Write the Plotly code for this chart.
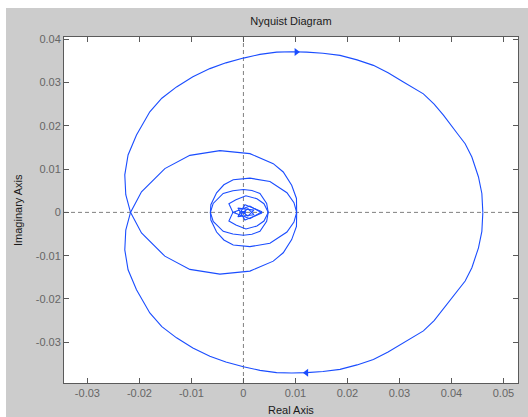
import plotly.graph_objects as go

# Nyquist curve, positive-frequency branch (w = 0 -> inf), real and imaginary parts
re_pos = [
    0.04604, 0.04585, 0.04520, 0.04393, 0.04264, 0.04135, 0.03846, 0.03667,
    0.03461, 0.03076, 0.02782, 0.02499, 0.02185, 0.01858, 0.01530, 0.01217,
    0.00930, 0.00639, 0.00318, 0.00000, -0.00337, -0.00645, -0.00972, -0.01286,
    -0.01569, -0.01800, -0.02056, -0.02218, -0.02281, -0.02262, -0.02171,
    -0.01960, -0.01511, -0.01030, -0.00452, 0.00125, 0.00574, 0.00766, 0.00928,
    0.01020, 0.01024,
    0.00972, 0.00837, 0.00510, 0.00125, -0.00196, -0.00376, -0.00516, -0.00626,
    -0.00635,
    -0.00581, -0.00389, -0.00202, 0.00000, 0.00164, 0.00318, 0.00447, 0.00477,
    0.00395, 0.00260, 0.00048, -0.00144, -0.00279, -0.00202, 0.00125, 0.00356,
    0.00029, -0.00106, 0.00202, 0.00087, -0.00048, 0.00048, 0.00000,
]
im_pos = [
    0.00000, -0.00437, -0.00818, -0.01278, -0.01586, -0.01786, -0.02246, -0.02499,
    -0.02736, -0.03011, -0.03223, -0.03395, -0.03522, -0.03625, -0.03676, -0.03701,
    -0.03710, -0.03701, -0.03648, -0.03563, -0.03453, -0.03320, -0.03131, -0.02897,
    -0.02637, -0.02322, -0.01786, -0.01326, -0.00867, -0.00407, 0.00000,
    0.00474, 0.01011, 0.01317, 0.01425, 0.01356, 0.01126, 0.00933, 0.00628,
    0.00322, 0.00000,
    -0.00223, -0.00453, -0.00713, -0.00791, -0.00752, -0.00637, -0.00453, -0.00177,
    0.00000,
    0.00207, 0.00437, 0.00501, 0.00529, 0.00506, 0.00437, 0.00207, 0.00000,
    -0.00200, -0.00315, -0.00384, -0.00292, -0.00200, 0.00000, 0.00145, -0.00016,
    -0.00177, 0.00099, 0.00053, -0.00085, 0.00030, -0.00016, 0.00000,
]

# Direction arrows on the outer loop
arrow_re = [0.01018, 0.01211]
arrow_im = [0.03702, -0.03702]
arrow_sym = ["triangle-right", "triangle-left"]

# Axis ticks
x_ticks = [-0.03, -0.02, -0.01, 0, 0.01, 0.02, 0.03, 0.04, 0.05]
x_labels = ["-0.03", "-0.02", "-0.01", "0", "0.01", "0.02", "0.03", "0.04", "0.05"]
y_ticks = [-0.03, -0.02, -0.01, 0, 0.01, 0.02, 0.03, 0.04]
y_labels = ["-0.03", "-0.02", "-0.01", "0", "0.01", "0.02", "0.03", "0.04"]

# Negative-frequency branch is the complex conjugate mirror
re_neg = list(reversed(re_pos))
im_neg = [-v for v in reversed(im_pos)]

LINE = "#1a4dff"
FONT = "Arial, Liberation Sans, Helvetica, sans-serif"
W, H = 528, 417
L, R, T, B = 64, 10, 37, 34
pw, ph = W - L - R, H - T - B

fig = go.Figure()
fig.add_trace(go.Scatter(x=re_pos, y=im_pos, mode="lines",
                         line=dict(color=LINE, width=1.1), hoverinfo="skip"))
fig.add_trace(go.Scatter(x=re_neg, y=im_neg, mode="lines",
                         line=dict(color=LINE, width=1.1), hoverinfo="skip"))
fig.add_trace(go.Scatter(x=arrow_re, y=arrow_im, mode="markers",
                         marker=dict(symbol=arrow_sym, size=7, color=LINE,
                                     line=dict(width=0)),
                         hoverinfo="skip"))

axis_common = dict(
    showgrid=False, zeroline=False, showline=True, linecolor="#5a5a5a",
    linewidth=1, mirror="ticks", ticks="inside", ticklen=5, tickcolor="#5a5a5a",
    tickfont=dict(family=FONT, size=11, color="#666666"),
)

fig.update_layout(
    width=W, height=H,
    margin=dict(l=L, r=R, t=T, b=B),
    paper_bgcolor="#cccccc", plot_bgcolor="white",
    showlegend=False,
    title=dict(text="Nyquist Diagram", x=(L + pw / 2) / W, xanchor="center",
               y=1 - 21 / H, yanchor="middle", yref="container",
               font=dict(family=FONT, size=11, color="#1a1a1a")),
    xaxis=dict(range=[-0.0345, 0.0528], tickvals=x_ticks, ticktext=x_labels,
               **axis_common),
    yaxis=dict(range=[-0.0394, 0.0405], tickvals=y_ticks, ticktext=y_labels,
               **axis_common),
    shapes=[
        # dashed real and imaginary axes through the origin
        dict(type="line", xref="x", yref="paper", x0=0, x1=0, y0=0, y1=1,
             line=dict(color="#808080", width=1, dash="4px,3px"), layer="below"),
        dict(type="line", xref="paper", yref="y", x0=0, x1=1, y0=0, y1=0,
             line=dict(color="#808080", width=1, dash="4px,3px"), layer="below"),
        # thin white border strip on the left and top of the figure
        dict(type="rect", xref="paper", yref="paper",
             x0=-L / pw, x1=(6 - L) / pw, y0=-B / ph, y1=1 + T / ph,
             fillcolor="white", line=dict(width=0), layer="above"),
        dict(type="rect", xref="paper", yref="paper",
             x0=-L / pw, x1=1 + R / pw, y0=1 + (T - 8) / ph, y1=1 + T / ph,
             fillcolor="white", line=dict(width=0), layer="above"),
    ],
    annotations=[
        dict(text="Real Axis", xref="paper", yref="paper", x=0.5,
             y=-(410 - (H - B)) / ph, xanchor="center", yanchor="middle",
             showarrow=False, font=dict(family=FONT, size=11, color="#1a1a1a")),
        dict(text="Imaginary Axis", xref="paper", yref="paper",
             x=(18 - L) / pw, y=0.5, textangle=-90, xanchor="center",
             yanchor="middle", showarrow=False,
             font=dict(family=FONT, size=11, color="#1a1a1a")),
    ],
)

fig.write_html("out.html")
